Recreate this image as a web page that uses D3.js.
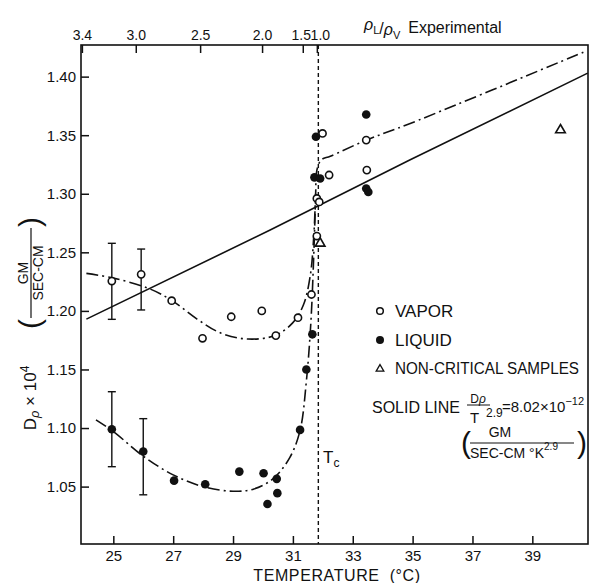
<!DOCTYPE html>
<meta charset="utf-8">
<style>
  body { margin: 0; background: #fff; }
  text { font-family: "Liberation Sans", Arial, sans-serif; fill: #111; }
</style>

<!-- Load d3.js -->
<script src="https://d3js.org/d3.v7.min.js"></script>

<div id="my_dataviz"></div>
<script>

// ---- data ----
// vapor samples (open circles)
var vaporT = [24.95, 25.93, 26.95, 27.98, 28.94, 29.96, 30.43, 31.17, 31.62, 31.80, 31.80, 31.88, 31.99, 32.21, 33.47, 33.45]
var vaporD = [1.2255, 1.2312, 1.2087, 1.1766, 1.195, 1.200, 1.1789, 1.1942, 1.214, 1.2639, 1.296, 1.293, 1.3515, 1.316, 1.3202, 1.3458]
// liquid samples (filled circles)
var liquidT = [24.95, 26.00, 27.03, 28.07, 29.21, 30.02, 30.15, 30.46, 30.48, 31.24, 31.45, 31.65, 31.72, 31.91, 31.77, 33.45, 33.45, 33.52]
var liquidD = [1.099, 1.0799, 1.0551, 1.052, 1.0628, 1.0614, 1.0352, 1.0566, 1.0444, 1.0984, 1.150, 1.180, 1.314, 1.313, 1.3487, 1.3677, 1.3045, 1.3015]
// non-critical samples (triangles)
var noncritT = [31.91, 39.94]
var noncritD = [1.2577, 1.3544]

// error bars: temperature, low, high
var vaporErrT = [24.95, 25.93]
var vaporErrLo = [1.1928, 1.2008]
var vaporErrHi = [1.2577, 1.2528]
var liquidErrT = [24.95, 26.00]
var liquidErrLo = [1.067, 1.043]
var liquidErrHi = [1.131, 1.108]

// solid line  D/T^2.9 = 8.02e-12
var solidT = [24.10, 30.24, 34.92, 40.85]
var solidD = [1.193, 1.269, 1.329, 1.403]

// dash-dot curves drawn by hand through the points
var vaporCurveT = [24.10, 25.00, 26.20, 26.95, 27.80, 28.60, 29.50, 30.40, 31.00, 31.35, 31.58, 31.70, 31.76, 31.80, 31.95, 32.25, 33.47, 34.92, 40.72]
var vaporCurveD = [1.232, 1.228, 1.219, 1.209, 1.193, 1.181, 1.176, 1.179, 1.190, 1.205, 1.230, 1.265, 1.300, 1.320, 1.329, 1.332, 1.346, 1.360, 1.421]
var liquidCurveT = [24.42, 25.00, 26.00, 27.00, 28.00, 29.00, 29.70, 30.35, 30.90, 31.24, 31.45, 31.60, 31.70, 31.76]
var liquidCurveD = [1.107, 1.097, 1.076, 1.060, 1.050, 1.046, 1.048, 1.057, 1.075, 1.098, 1.140, 1.190, 1.250, 1.300]

// tick labels
var xTicks = [25, 27, 29, 31, 33, 35, 37, 39]
var yTicks = [1.05, 1.10, 1.15, 1.20, 1.25, 1.30, 1.35, 1.40]
var ratioLabels = ["3.4", "3.0", "2.5", "2.0", "1.5", "1.0"]
var ratioAtT = [23.95, 25.75, 27.90, 29.97, 31.33, 31.80]
var Tc = 31.85

// ---- layout ----
var width = 592,
    height = 583
var margin = {top: 45, right: 4, bottom: 39, left: 81}

var svg = d3.select("#my_dataviz")
  .append("svg")
    .attr("width", width)
    .attr("height", height)

var x = d3.scaleLinear()
  .domain([23.92, 40.86])
  .range([margin.left, width - margin.right])

var y = d3.scaleLinear()
  .domain([1.001, 1.427])
  .range([height - margin.bottom, margin.top])

var lineW = 1.6

// frame
svg.append("rect")
  .attr("x", margin.left)
  .attr("y", margin.top)
  .attr("width", width - margin.left - margin.right)
  .attr("height", height - margin.top - margin.bottom)
  .attr("fill", "none")
  .attr("stroke", "#111")
  .attr("stroke-width", 1.6)

// bottom axis, ticks pointing inside
var gx = svg.append("g")
  .attr("transform", "translate(0," + (height - margin.bottom) + ")")
  .call(d3.axisBottom(x).tickValues(xTicks).tickSize(-8).tickSizeOuter(0).tickPadding(6).tickFormat(d3.format("d")))
gx.select(".domain").remove()
gx.selectAll("text").style("font-size", "15px")

// left axis
var gy = svg.append("g")
  .attr("transform", "translate(" + margin.left + ",0)")
  .call(d3.axisLeft(y).tickValues(yTicks).tickSize(-8).tickSizeOuter(0).tickPadding(5).tickFormat(d3.format(".2f")))
gy.select(".domain").remove()
gy.selectAll("text").style("font-size", "15px")

// top axis: density ratio rho_L / rho_V placed at temperature
var gt = svg.append("g")
  .attr("transform", "translate(0," + margin.top + ")")
  .call(d3.axisTop(x).tickValues(ratioAtT).tickSize(-8).tickSizeOuter(0).tickPadding(5)
    .tickFormat(function(d, i) { return ratioLabels[i] }))
gt.select(".domain").remove()
gt.selectAll("text").style("font-size", "14px")
// 1.5 and 1.0 are squeezed together
gt.selectAll("text").filter(function(d, i) { return i == 4 }).attr("dx", "-2")
gt.selectAll("text").filter(function(d, i) { return i == 5 }).attr("dx", "3")

svg.selectAll(".tick line").attr("stroke", "#111").attr("stroke-width", 1.5)

// Tc dashed vertical line
svg.append("line")
  .attr("x1", x(Tc)).attr("x2", x(Tc))
  .attr("y1", margin.top).attr("y2", height - margin.bottom)
  .attr("stroke", "#111")
  .attr("stroke-width", 1.4)
  .attr("stroke-dasharray", "4,3")

// ---- lines ----
function pairs(a, b) { return a.map(function(d, i) { return [d, b[i]] }) }

var lineGen = d3.line()
  .x(function(d) { return x(d[0]) })
  .y(function(d) { return y(d[1]) })

svg.append("path")
  .datum(pairs(solidT, solidD))
  .attr("d", lineGen)
  .attr("fill", "none")
  .attr("stroke", "#111")
  .attr("stroke-width", lineW)

var curveGen = d3.line()
  .curve(d3.curveCatmullRom.alpha(0.5))
  .x(function(d) { return x(d[0]) })
  .y(function(d) { return y(d[1]) })

svg.append("path")
  .datum(pairs(vaporCurveT, vaporCurveD))
  .attr("d", curveGen)
  .attr("fill", "none")
  .attr("stroke", "#111")
  .attr("stroke-width", lineW)
  .attr("stroke-dasharray", "12,4,2,4")

svg.append("path")
  .datum(pairs(liquidCurveT, liquidCurveD))
  .attr("d", curveGen)
  .attr("fill", "none")
  .attr("stroke", "#111")
  .attr("stroke-width", lineW)
  .attr("stroke-dasharray", "12,4,2,4")

// ---- error bars ----
function errorBars(T, lo, hi) {
  var g = svg.append("g").attr("stroke", "#111").attr("stroke-width", 1.4)
  T.forEach(function(t, i) {
    g.append("line").attr("x1", x(t)).attr("x2", x(t)).attr("y1", y(lo[i])).attr("y2", y(hi[i]))
    g.append("line").attr("x1", x(t) - 4).attr("x2", x(t) + 4).attr("y1", y(lo[i])).attr("y2", y(lo[i]))
    g.append("line").attr("x1", x(t) - 4).attr("x2", x(t) + 4).attr("y1", y(hi[i])).attr("y2", y(hi[i]))
  })
}
errorBars(vaporErrT, vaporErrLo, vaporErrHi)
errorBars(liquidErrT, liquidErrLo, liquidErrHi)

// ---- points ----
svg.append("g")
  .selectAll("circle")
  .data(pairs(vaporT, vaporD))
  .enter()
  .append("circle")
    .attr("cx", function(d) { return x(d[0]) })
    .attr("cy", function(d) { return y(d[1]) })
    .attr("r", 3.6)
    .attr("fill", "#fff")
    .attr("stroke", "#111")
    .attr("stroke-width", 1.6)

svg.append("g")
  .selectAll("circle")
  .data(pairs(liquidT, liquidD))
  .enter()
  .append("circle")
    .attr("cx", function(d) { return x(d[0]) })
    .attr("cy", function(d) { return y(d[1]) })
    .attr("r", 4.3)
    .attr("fill", "#111")

var tri = d3.symbol().type(d3.symbolTriangle).size(40)
svg.append("g")
  .selectAll("path")
  .data(pairs(noncritT, noncritD))
  .enter()
  .append("path")
    .attr("d", tri)
    .attr("transform", function(d) { return "translate(" + x(d[0]) + "," + y(d[1]) + ")" })
    .attr("fill", "#fff")
    .attr("stroke", "#111")
    .attr("stroke-width", 1.6)

// ---- axis titles ----
svg.append("text")
  .attr("x", 337)
  .attr("y", 581)
  .attr("text-anchor", "middle")
  .style("font-size", "16px")
  .style("letter-spacing", "0.6px")
  .style("white-space", "pre")
  .text("TEMPERATURE  (°C)")

// top title rho_L / rho_V Experimental
var tt = svg.append("text").attr("x", 364).attr("y", 33).style("font-size", "16px")
tt.append("tspan").attr("font-style", "italic").attr("dy", -3).text("ρ")
tt.append("tspan").style("font-size", "11px").attr("dy", 4).text("L")
tt.append("tspan").attr("dy", 0).text("/")
tt.append("tspan").attr("font-style", "italic").attr("dy", 1).text("ρ")
tt.append("tspan").style("font-size", "11px").attr("dy", 4).text("V")
tt.append("tspan").attr("dy", -6).attr("dx", 8).text("Experimental")

// y title, rotated
var yl = svg.append("g").attr("transform", "rotate(-90)")
var yt = yl.append("text").attr("x", -398).attr("y", 36).attr("text-anchor", "middle").style("font-size", "17px")
yt.append("tspan").text("D")
yt.append("tspan").attr("font-style", "italic").style("font-size", "13px").attr("dy", 3).text("ρ")
yt.append("tspan").attr("dy", -3).text(" × 10")
yt.append("tspan").style("font-size", "12px").attr("dy", -7).text("4")
yl.append("text").attr("x", -273).attr("y", 28).attr("text-anchor", "middle").style("font-size", "14px").text("GM")
yl.append("line").attr("x1", -318).attr("x2", -228).attr("y1", 31).attr("y2", 31).attr("stroke", "#111").attr("stroke-width", 1.2)
yl.append("text").attr("x", -273).attr("y", 43).attr("text-anchor", "middle").style("font-size", "14px").text("SEC-CM")
yl.append("text").attr("x", -324).attr("y", 40).attr("text-anchor", "middle").style("font-size", "30px").style("font-weight", "300").text("(")
yl.append("text").attr("x", -222).attr("y", 40).attr("text-anchor", "middle").style("font-size", "30px").style("font-weight", "300").text(")")

// ---- legend ----
var legend = svg.append("g")
legend.append("circle").attr("cx", 380).attr("cy", 311).attr("r", 3.3).attr("fill", "#fff").attr("stroke", "#111").attr("stroke-width", 1.5)
legend.append("text").attr("x", 395).attr("y", 317).style("font-size", "17px").text("VAPOR")
legend.append("circle").attr("cx", 380).attr("cy", 340).attr("r", 4).attr("fill", "#111")
legend.append("text").attr("x", 395).attr("y", 346).style("font-size", "17px").text("LIQUID")
legend.append("path").attr("d", tri).attr("transform", "translate(380,369) scale(0.8)")
  .attr("fill", "#fff").attr("stroke", "#111").attr("stroke-width", 1.6)
legend.append("text").attr("x", 395).attr("y", 374).style("font-size", "16px")
  .attr("textLength", 184).attr("lengthAdjust", "spacingAndGlyphs").text("NON-CRITICAL SAMPLES")

// formula of the solid line
legend.append("text").attr("x", 372).attr("y", 413).style("font-size", "16px").text("SOLID LINE")
var num = legend.append("text").attr("x", 478).attr("y", 403).attr("text-anchor", "middle").style("font-size", "12px")
num.append("tspan").text("D")
num.append("tspan").attr("font-style", "italic").text("ρ")
legend.append("line").attr("x1", 467).attr("x2", 490).attr("y1", 405).attr("y2", 405).attr("stroke", "#111").attr("stroke-width", 1)
legend.append("text").attr("x", 470).attr("y", 423).style("font-size", "15px").text("T")
legend.append("text").attr("x", 486).attr("y", 417).style("font-size", "12px").text("2.9")
var eq = legend.append("text").attr("x", 502).attr("y", 412).style("font-size", "15px")
eq.append("tspan").text("=8.02×10")
eq.append("tspan").style("font-size", "11px").attr("dy", -7).text("−12")

legend.append("text").attr("x", 500).attr("y", 437).attr("text-anchor", "middle").style("font-size", "14px").text("GM")
legend.append("line").attr("x1", 470).attr("x2", 574).attr("y1", 443).attr("y2", 443).attr("stroke", "#111").attr("stroke-width", 1.2)
var den = legend.append("text").attr("x", 470).attr("y", 458).style("font-size", "14px")
den.append("tspan").text("SEC-CM °K")
den.append("tspan").style("font-size", "10px").attr("dy", -8).text("2.9")
legend.append("text").attr("x", 466).attr("y", 453).attr("text-anchor", "middle").style("font-size", "30px").style("font-weight", "300").text("(")
legend.append("text").attr("x", 582).attr("y", 453).attr("text-anchor", "middle").style("font-size", "30px").style("font-weight", "300").text(")")

// Tc label
var tc = svg.append("text").attr("x", 323).attr("y", 463).style("font-size", "17px")
tc.append("tspan").text("T")
tc.append("tspan").style("font-size", "12px").attr("dy", 4).text("c")

</script>
